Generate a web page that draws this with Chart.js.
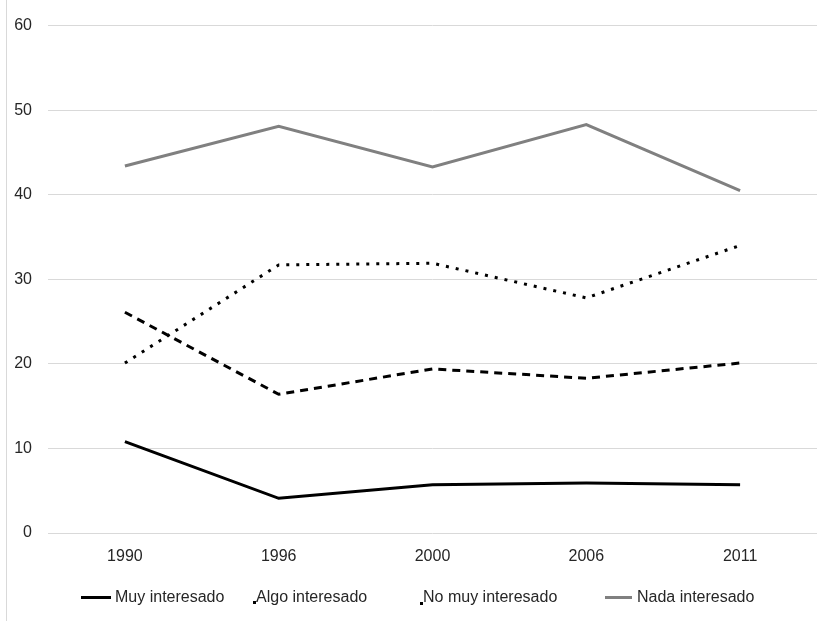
<!DOCTYPE html>
<html lang="es">
<head>
  <meta charset="UTF-8" />
  <title>Interés por la política</title>
  <script src="https://cdn.jsdelivr.net/npm/chart.js"></script>
  <style>
    body {
      margin: 0;
      background: #fff;
      font-family: "Liberation Sans", Arial, sans-serif;
    }
    #wrap {
      position: relative;
      width: 828px;
      height: 621px;
    }
    #frame {
      position: absolute;
      left: 6px;
      top: 0;
      width: 1px;
      height: 621px;
      background: #d9d9d9;
    }
    #legend {
      position: absolute;
      left: 0;
      top: 587px;
      width: 828px;
      height: 20px;
      font-size: 16px;
      color: #262626;
    }
    .item {
      position: absolute;
      top: 0;
      white-space: nowrap;
      line-height: 20px;
    }
    .mark {
      position: absolute;
    }
  </style>
</head>
<body>
  <div id="wrap">
    <canvas id="chart" width="828" height="621"></canvas>
    <div id="frame"></div>
    <div id="legend"></div>
  </div>

  <script>
    const years = ['1990', '1996', '2000', '2006', '2011'];
    const muyInteresado = [10.8, 4.1, 5.7, 5.9, 5.7];
    const algoInteresado = [26.1, 16.4, 19.4, 18.3, 20.1];
    const noMuyInteresado = [20.1, 31.7, 31.9, 27.8, 34.0];
    const nadaInteresado = [43.4, 48.1, 43.3, 48.3, 40.5];
    const yTicks = [0, 10, 20, 30, 40, 50, 60];

    const series = [
      { label: 'Muy interesado', data: muyInteresado, color: '#000000', dash: [] },
      { label: 'Algo interesado', data: algoInteresado, color: '#000000', dash: [8, 6] },
      { label: 'No muy interesado', data: noMuyInteresado, color: '#000000', dash: [3, 7] },
      { label: 'Nada interesado', data: nadaInteresado, color: '#808080', dash: [] }
    ];

    const tickFont = { family: '"Liberation Sans", Arial, sans-serif', size: 16 };

    new Chart(document.getElementById('chart').getContext('2d'), {
      type: 'line',
      data: {
        labels: years,
        datasets: series.map(s => ({
          label: s.label,
          data: s.data,
          borderColor: s.color,
          borderWidth: 3,
          borderDash: s.dash,
          borderCapStyle: 'butt',
          pointRadius: 0,
          tension: 0,
          fill: false
        }))
      },
      options: {
        responsive: false,
        animation: false,
        layout: { padding: { top: 24, left: 0, right: 11, bottom: 0 } },
        plugins: {
          legend: { display: false },
          tooltip: { enabled: false }
        },
        scales: {
          x: {
            offset: true,
            grid: { display: false },
            border: { display: false },
            ticks: { padding: 6, color: '#262626', font: tickFont },
            afterFit: scale => { scale.height = 88; }
          },
          y: {
            min: 0,
            max: 60,
            afterBuildTicks: scale => { scale.ticks = yTicks.map(v => ({ value: v })); },
            grid: { color: '#d9d9d9', lineWidth: 1, drawTicks: false },
            border: { display: false },
            ticks: { padding: 16, color: '#262626', font: tickFont },
            afterFit: scale => { scale.width = 48; }
          }
        }
      }
    });

    // legend row under the axis
    const legendItems = [
      { x: 81, mark: { top: 9, width: 30, height: 3, bg: '#000' }, textX: 34 },
      { x: 253, mark: { top: 14, width: 3, height: 3, bg: '#000' }, textX: 3 },
      { x: 420, mark: { top: 15, width: 3, height: 3, bg: '#000' }, textX: 3 },
      { x: 605, mark: { top: 9, width: 27, height: 3, bg: '#808080' }, textX: 32 }
    ];
    const legend = document.getElementById('legend');
    legendItems.forEach((it, i) => {
      const item = document.createElement('div');
      item.className = 'item';
      item.style.left = it.x + 'px';
      const m = document.createElement('div');
      m.className = 'mark';
      m.style.left = '0px';
      m.style.top = it.mark.top + 'px';
      m.style.width = it.mark.width + 'px';
      m.style.height = it.mark.height + 'px';
      m.style.background = it.mark.bg;
      const t = document.createElement('span');
      t.style.position = 'absolute';
      t.style.left = it.textX + 'px';
      t.textContent = series[i].label;
      item.appendChild(m);
      item.appendChild(t);
      legend.appendChild(item);
    });
  </script>
</body>
</html>
